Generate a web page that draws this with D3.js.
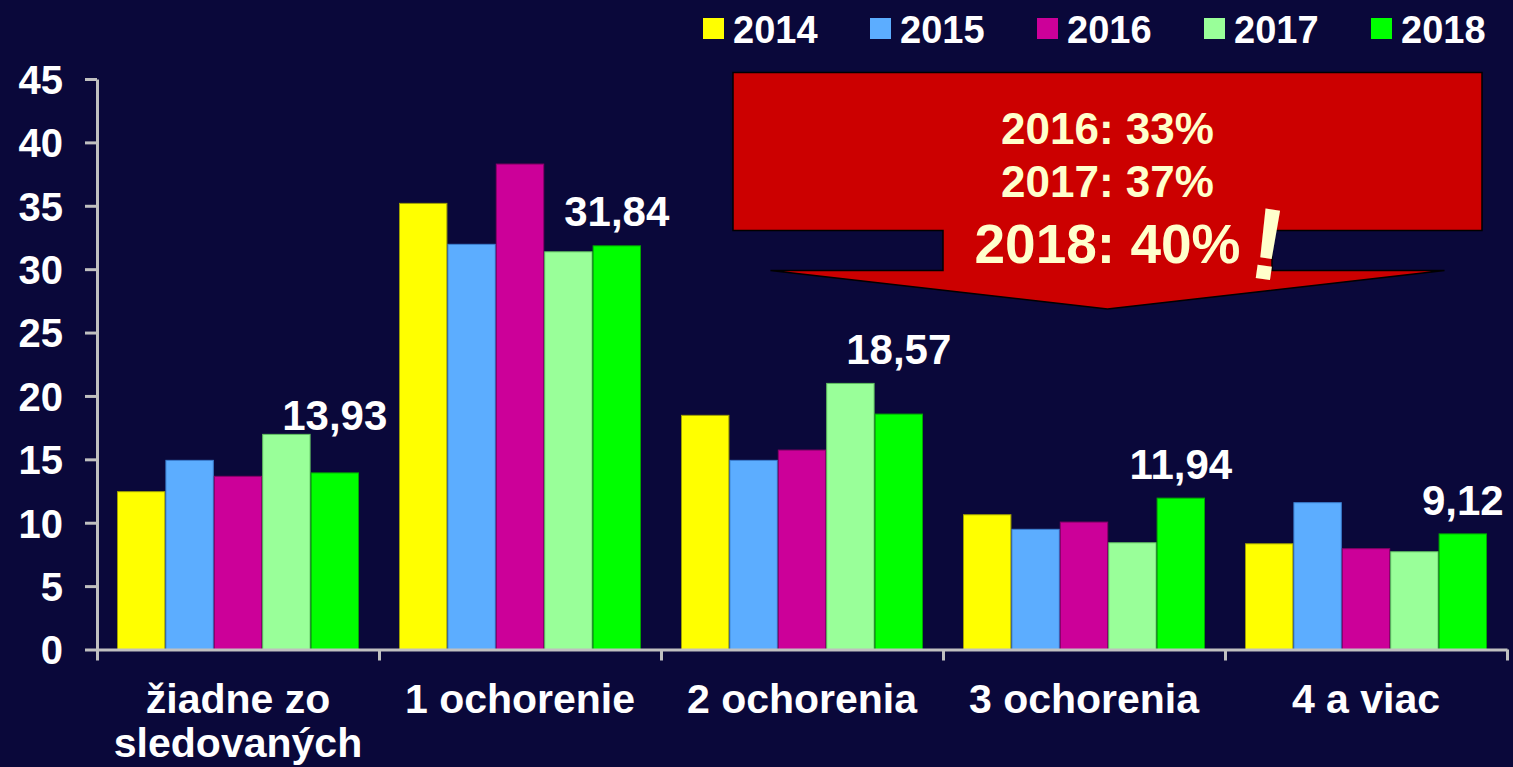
<!DOCTYPE html>
<html>
<head>
<meta charset="utf-8">
<script src="https://cdn.jsdelivr.net/npm/d3@7"></script>
<style>
  html, body { margin: 0; padding: 0; background: #0a083a; }
  svg { display: block; }
  text { font-family: "Liberation Sans", Arial, Helvetica, sans-serif; font-weight: bold; }
</style>
</head>
<body>
<svg id="chart" width="1513" height="767"></svg>
<script>
// Categories (number of monitored diseases) and yearly shares in %
const categories = ["žiadne zo\nsledovaných", "1 ochorenie", "2 ochorenia", "3 ochorenia", "4 a viac"];
const years = ["2014", "2015", "2016", "2017", "2018"];
const values2014 = [12.45, 35.19, 18.47, 10.63, 8.34];
const values2015 = [14.92, 31.96, 14.92, 9.48, 11.58];
const values2016 = [13.66, 38.29, 15.73, 10.05, 7.95];
const values2017 = [16.97, 31.37, 20.99, 8.42, 7.71];
const values2018 = [13.93, 31.84, 18.57, 11.94, 9.12];
const yTicks = [0, 5, 10, 15, 20, 25, 30, 35, 40, 45];
const calloutLines = ["2016: 33%", "2017: 37%", "2018: 40%"];

const seriesValues = [values2014, values2015, values2016, values2017, values2018];
const colors = ["#ffff00", "#5cadff", "#cc0099", "#99ff99", "#00ff00"];
const strokes = ["#a0a000", "#3b7fd0", "#8a0068", "#5fc060", "#00a800"];

// How far above each 2018 bar its value label sits
const labelLift = [43, 20, 50, 19, 19];

const svg = d3.select("#chart");
const W = 1513, H = 767;
svg.append("rect").attr("width", W).attr("height", H).attr("fill", "#0a083a");

const x0 = d3.scaleBand().domain(categories).range([97, 1507]).paddingInner(0).paddingOuter(0);
const x1 = d3.scaleBand().domain(years).range([20, x0.bandwidth() - 20]).padding(0);
const y = d3.scaleLinear().domain([0, 45]).range([649.5, 79]);

const locale = d3.formatLocale({ decimal: ",", thousands: " ", grouping: [3], currency: ["", " €"] });
const fmt = locale.format(".2f");

// Bars
const groups = svg.append("g").selectAll("g")
  .data(categories)
  .join("g")
  .attr("transform", d => `translate(${x0(d)},0)`);

groups.selectAll("rect")
  .data((c, ci) => years.map((yr, si) => ({ yr, si, v: seriesValues[si][ci] })))
  .join("rect")
  .attr("x", d => x1(d.yr) + 0.5)
  .attr("y", d => y(d.v))
  .attr("width", x1.bandwidth() - 1)
  .attr("height", d => y(0) - y(d.v))
  .attr("fill", d => colors[d.si])
  .attr("stroke", d => strokes[d.si])
  .attr("stroke-width", 1);

// Value labels for 2018
svg.append("g").selectAll("text")
  .data(categories)
  .join("text")
  .attr("x", (c) => x0(c) + x1("2018") + x1.bandwidth() / 2)
  .attr("y", (c, i) => y(values2018[i]) - labelLift[i])
  .attr("text-anchor", "middle")
  .attr("fill", "#ffffff")
  .attr("font-size", 42)
  .text((c, i) => fmt(values2018[i]));

// Y axis
const yAxis = svg.append("g")
  .attr("transform", "translate(97,0)")
  .call(d3.axisLeft(y).tickValues(yTicks).tickSize(12).tickSizeOuter(0).tickPadding(22));
yAxis.select(".domain").attr("stroke", "#c0c0c0").attr("stroke-width", 3);
yAxis.selectAll(".tick line").attr("stroke", "#c0c0c0").attr("stroke-width", 3);
yAxis.selectAll(".tick text")
  .attr("fill", "#ffffff")
  .attr("font-size", 40)
  .attr("font-family", "'Liberation Sans', Arial, sans-serif")
  .attr("font-weight", "bold")
  .attr("dy", "0.36em");

// X axis with ticks on category boundaries
const boundaries = categories.map(c => x0(c)).concat([x0.range()[1]]);
const xb = d3.scaleLinear().domain([97, 1507]).range([97, 1507]);
const xAxis = svg.append("g")
  .attr("transform", `translate(0,${y(0)})`)
  .call(d3.axisBottom(xb).tickValues(boundaries).tickSize(11).tickSizeOuter(0).tickFormat(""));
xAxis.select(".domain").attr("stroke", "#c0c0c0").attr("stroke-width", 3);
xAxis.selectAll(".tick line").attr("stroke", "#c0c0c0").attr("stroke-width", 3);

// Category labels
const catLabels = svg.append("g").selectAll("text")
  .data(categories)
  .join("text")
  .attr("x", c => x0(c) + x0.bandwidth() / 2)
  .attr("y", 713)
  .attr("text-anchor", "middle")
  .attr("fill", "#ffffff")
  .attr("font-size", 41);
catLabels.selectAll("tspan")
  .data(c => c.split("\n"))
  .join("tspan")
  .attr("x", function () { return d3.select(this.parentNode).attr("x"); })
  .attr("dy", (d, i) => i === 0 ? 0 : 44)
  .text(d => d);

// Legend
const legend = svg.append("g").selectAll("g")
  .data(years)
  .join("g")
  .attr("transform", (d, i) => `translate(${703 + i * 167},0)`);
legend.append("rect")
  .attr("x", 0).attr("y", 18).attr("width", 21).attr("height", 21)
  .attr("fill", (d, i) => colors[i]);
legend.append("text")
  .attr("x", 30).attr("y", 43)
  .attr("fill", "#ffffff")
  .attr("font-size", 38)
  .text(d => d);

// Down-arrow callout
const cx = 1107.5;
const calloutPath = d3.path();
calloutPath.moveTo(733, 72.5);
calloutPath.lineTo(1482, 72.5);
calloutPath.lineTo(1482, 230.5);
calloutPath.lineTo(cx + 164.5, 230.5);
calloutPath.lineTo(cx + 164.5, 270.5);
calloutPath.lineTo(cx + 337, 270.5);
calloutPath.lineTo(cx, 309);
calloutPath.lineTo(cx - 337, 270.5);
calloutPath.lineTo(cx - 164.5, 270.5);
calloutPath.lineTo(cx - 164.5, 230.5);
calloutPath.lineTo(733, 230.5);
calloutPath.closePath();
svg.append("path")
  .attr("d", calloutPath.toString())
  .attr("fill", "#cc0000")
  .attr("stroke", "#000000")
  .attr("stroke-width", 1.5)
  .attr("stroke-linejoin", "miter");

const callout = svg.append("g");
callout.selectAll("text")
  .data(calloutLines)
  .join("text")
  .attr("x", cx)
  .attr("y", (d, i) => [144, 197, 263][i])
  .attr("text-anchor", "middle")
  .attr("fill", "#ffffcc")
  .attr("font-size", (d, i) => i === 2 ? 55 : 44)
  .text(d => d);

callout.append("text")
  .attr("transform", "translate(1263,279) rotate(8)")
  .attr("text-anchor", "middle")
  .attr("fill", "#ffffcc")
  .attr("font-size", 102)
  .text("!");
</script>
</body>
</html>
